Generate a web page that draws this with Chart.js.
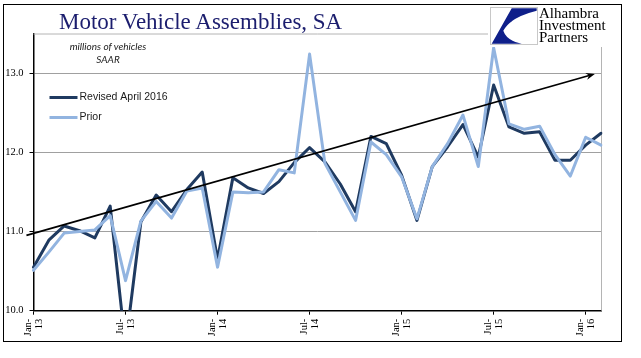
<!DOCTYPE html>
<html>
<head>
<meta charset="utf-8">
<script src="https://cdn.jsdelivr.net/npm/chart.js@4.4.0/dist/chart.umd.min.js"></script>
<style>
  body { margin: 0; background: #fff; }
  #wrap { position: relative; width: 641px; height: 358px; overflow: hidden; }
  #chart { position: absolute; left: 0; top: 0; }
  #frame { position: absolute; left: 3px; top: 4px; width: 617px; height: 336px; border: 1.5px solid #000; }
  #title { position: absolute; left: 59px; top: 10px; font: 23px/23px "Liberation Serif", serif; color: #1b1d6e; white-space: nowrap; }
  #unit { position: absolute; left: 58px; top: 40px; width: 100px; text-align: center; font: italic 10px/13.4px Lato, sans-serif; color: #222; }
  #logo { position: absolute; left: 488px; top: 5px; width: 126px; height: 42px; background: #fff; }
  #logo svg { position: absolute; left: 2px; top: 2px; }
  #logo .name { position: absolute; left: 51px; top: 2px; font: 15px/12px "Liberation Serif", serif; color: #000; white-space: nowrap; }
</style>
</head>
<body>
<div id="wrap">
  <canvas id="chart" width="641" height="358"></canvas>
  <div id="frame"></div>
  <div id="title">Motor Vehicle Assemblies, SA</div>
  <div id="unit">millions of vehicles<br>SAAR</div>
  <div id="logo">
    <svg width="48" height="38" viewBox="0 0 48 38">
      <rect x="0.5" y="0.5" width="47" height="37" fill="#fff" stroke="#c8c8c8" stroke-width="1"/>
      <path d="M21.7 1.2 L46.7 1.2 L46.7 3.8 Q20 10.5 13.3 23.8 Q16.7 33.8 31.7 36.7 L1.7 36.7 Z" fill="#0f1f8a"/>
    </svg>
    <div class="name">Alhambra<br>Investment<br>Partners</div>
  </div>
</div>
<script>
  // monthly categories, Jan-13 .. Feb-16
  var months = ['Jan-13','Feb-13','Mar-13','Apr-13','May-13','Jun-13','Jul-13','Aug-13','Sep-13','Oct-13','Nov-13','Dec-13',
                'Jan-14','Feb-14','Mar-14','Apr-14','May-14','Jun-14','Jul-14','Aug-14','Sep-14','Oct-14','Nov-14','Dec-14',
                'Jan-15','Feb-15','Mar-15','Apr-15','May-15','Jun-15','Jul-15','Aug-15','Sep-15','Oct-15','Nov-15','Dec-15',
                'Jan-16','Feb-16'];

  // millions of vehicles, SAAR
  var revised = [10.55, 10.89, 11.07, 11.01, 10.92, 11.32, 9.55, 11.12, 11.46, 11.25, 11.53, 11.75,
                 10.65, 11.68, 11.55, 11.48, 11.63, 11.87, 12.06, 11.88, 11.60, 11.25, 12.20, 12.11,
                 11.71, 11.14, 11.82, 12.07, 12.35, 11.94, 12.85, 12.32, 12.24, 12.26, 11.90, 11.90,
                 12.09, 12.24];
  var prior = [10.51, 10.74, 10.98, 11.00, 11.02, 11.20, 10.38, 11.13, 11.38, 11.17, 11.51, 11.55,
               10.55, 11.50, 11.49, 11.50, 11.78, 11.74, 13.24, 11.86, 11.50, 11.14, 12.13, 11.97,
               11.69, 11.16, 11.82, 12.11, 12.47, 11.82, 13.32, 12.36, 12.29, 12.33, 11.97, 11.70,
               12.19, 12.09];

  var seriesNames = ['Revised April 2016', 'Prior'];
  var yTicks = [10, 11, 12, 13];

  // hand-drawn trend arrow: [category index, value]
  var trendStart = [-0.46, 10.95];
  var trendEnd = [36.6, 12.99];

  var overlay = {
    id: 'overlay',
    beforeDatasetsDraw: function(chart) {
      var a = chart.chartArea, ctx = chart.ctx;
      ctx.save();
      ctx.strokeStyle = '#b4b4b4';
      ctx.lineWidth = 1;
      ctx.beginPath();
      ctx.moveTo(a.left, a.top + 0.5);
      ctx.lineTo(a.right + 0.5, a.top + 0.5);
      ctx.lineTo(a.right + 0.5, a.bottom);
      ctx.stroke();
      ctx.restore();
    },
    afterDatasetsDraw: function(chart) {
      var x = chart.scales.x, y = chart.scales.y, ctx = chart.ctx;
      var x0 = x.getPixelForValue(trendStart[0]), y0 = y.getPixelForValue(trendStart[1]);
      var x1 = x.getPixelForValue(trendEnd[0]), y1 = y.getPixelForValue(trendEnd[1]);
      var ang = Math.atan2(y1 - y0, x1 - x0);
      ctx.save();
      ctx.strokeStyle = '#000';
      ctx.fillStyle = '#000';
      ctx.lineWidth = 1.8;
      ctx.beginPath();
      ctx.moveTo(x0, y0);
      ctx.lineTo(x1 - 5 * Math.cos(ang), y1 - 5 * Math.sin(ang));
      ctx.stroke();
      ctx.beginPath();
      ctx.moveTo(x1, y1);
      ctx.lineTo(x1 - 9 * Math.cos(ang) + 3.5 * Math.sin(ang), y1 - 9 * Math.sin(ang) - 3.5 * Math.cos(ang));
      ctx.lineTo(x1 - 6 * Math.cos(ang), y1 - 6 * Math.sin(ang));
      ctx.lineTo(x1 - 9 * Math.cos(ang) - 3.5 * Math.sin(ang), y1 - 9 * Math.sin(ang) + 3.5 * Math.cos(ang));
      ctx.closePath();
      ctx.fill();
      ctx.restore();

      // legend, top-left inside the plot
      var a = chart.chartArea;
      ctx.save();
      ctx.font = '10.5px "Liberation Sans", Arial, sans-serif';
      ctx.textBaseline = 'middle';
      chart.data.datasets.forEach(function(ds, i) {
        var ly = a.top + 64 + i * 20;
        ctx.strokeStyle = ds.borderColor;
        ctx.lineWidth = 3;
        ctx.beginPath();
        ctx.moveTo(a.left + 16, ly);
        ctx.lineTo(a.left + 44, ly);
        ctx.stroke();
        ctx.fillStyle = '#1a1a1a';
        ctx.fillText(ds.label, a.left + 46, ly);
      });
      ctx.restore();
    }
  };

  new Chart(document.getElementById('chart'), {
    type: 'line',
    data: {
      labels: months,
      datasets: [{
        label: seriesNames[0],
        data: revised,
        borderColor: '#1f3a60',
        borderWidth: 3,
        order: 1
      }, {
        label: seriesNames[1],
        data: prior,
        borderColor: '#92b4e0',
        borderWidth: 3,
        order: 0
      }]
    },
    options: {
      responsive: false,
      animation: false,
      layout: { padding: { left: 0, top: 33.5, right: 40, bottom: 0 } },
      elements: {
        point: { radius: 0 },
        line: { tension: 0, borderJoinStyle: 'round', borderCapStyle: 'round' }
      },
      plugins: { legend: { display: false }, tooltip: { enabled: false } },
      scales: {
        x: {
          offset: false,
          border: { color: '#000', width: 1.5 },
          grid: { drawOnChartArea: false, tickLength: 4, tickColor: '#000', tickWidth: 1 },
          ticks: {
            autoSkip: false,
            minRotation: 90,
            maxRotation: 90,
            padding: 4,
            labelOffset: -5.5,
            color: '#000',
            font: { family: '"Liberation Serif", serif', size: 10.5, lineHeight: 1.05 },
            callback: function(v, i) {
              if (i % 6 !== 0) return null;
              var p = months[i].split('-');
              return [p[0] + '-', p[1]];
            }
          },
          afterFit: function(s) { s.height = 47.3; }
        },
        y: {
          min: 10,
          max: 13.5,
          border: { color: '#000', width: 1.5 },
          grid: { color: '#a0a0a0', lineWidth: 1, borderDash: [2, 2], tickColor: '#000', tickBorderDash: [], tickLength: 4 },
          ticks: {
            stepSize: 1,
            includeBounds: false,
            padding: 6,
            color: '#000',
            font: { family: '"Liberation Serif", serif', size: 10.5 },
            callback: function(v) { return yTicks.indexOf(v) >= 0 ? v.toFixed(1) : null; }
          },
          afterFit: function(s) { s.width = 33.5; }
        }
      }
    },
    plugins: [overlay]
  });
</script>
</body>
</html>
